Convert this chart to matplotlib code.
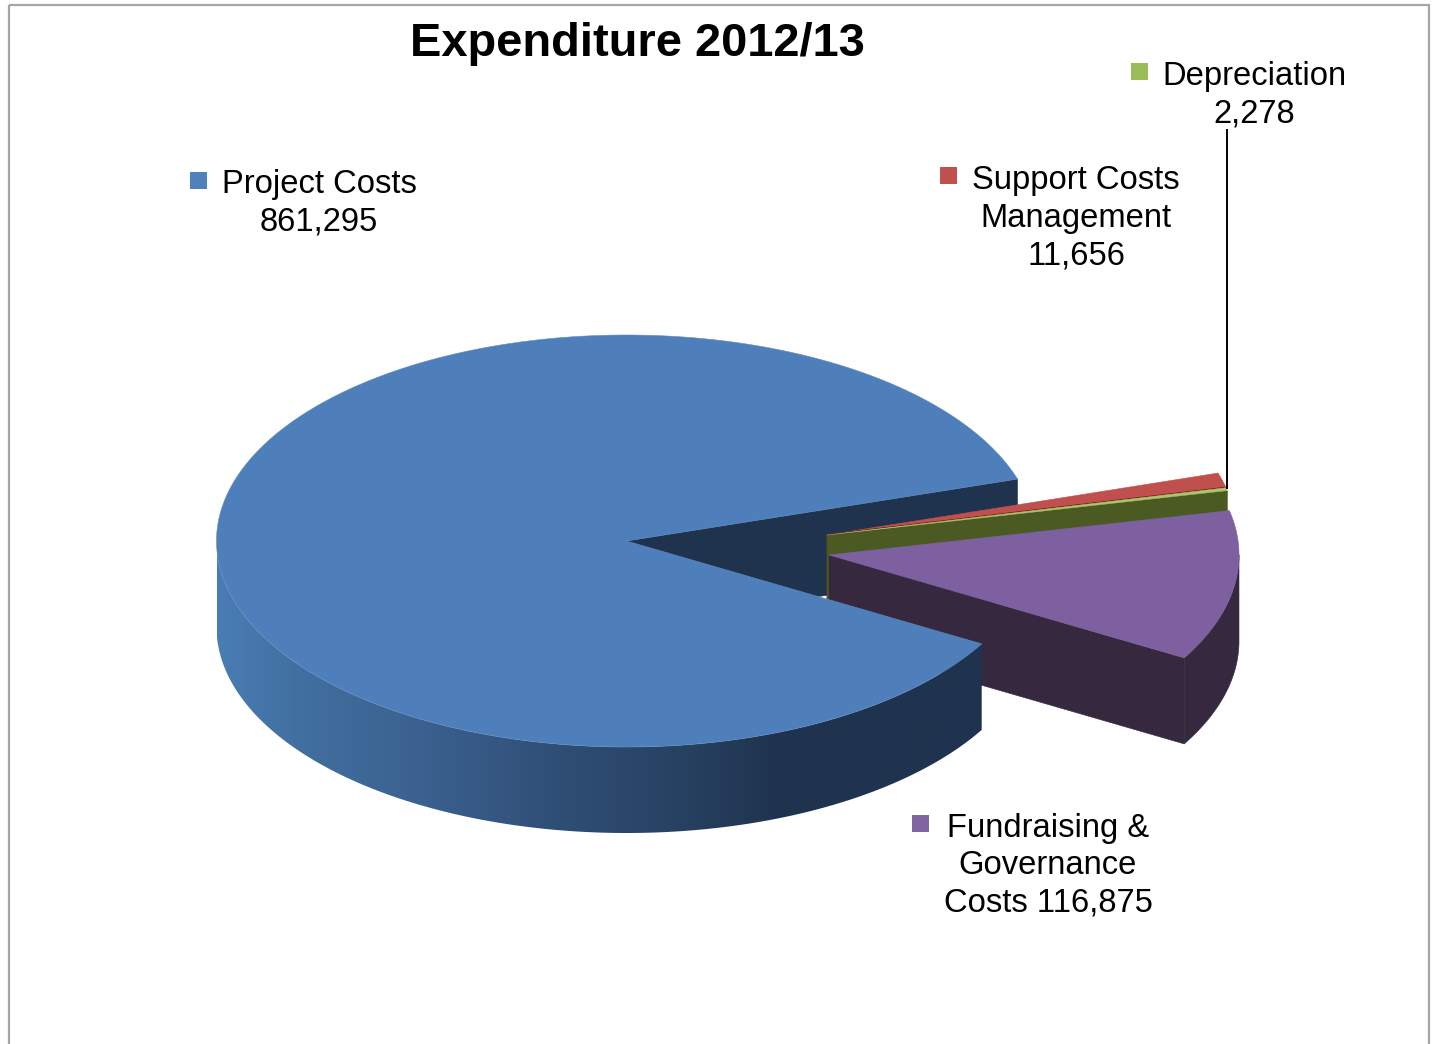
import numpy as np
import matplotlib
matplotlib.use("Agg")
import matplotlib.pyplot as plt
from matplotlib.colors import to_rgb
from matplotlib.patches import Polygon, Rectangle

plt.rcParams['font.family'] = ['Liberation Sans', 'DejaVu Sans']

categories = ["Project Costs", "Fundraising & Governance Costs", "Depreciation", "Support Costs Management"]
values = [861295, 116875, 2278, 11656]
title = "Expenditure 2012/13"

W, H = 1437, 1044
fig = plt.figure(figsize=(W / 100, H / 100), dpi=100)
ax = fig.add_axes([0, 0, 1, 1])
ax.set_xlim(0, W)
ax.set_ylim(H, 0)
ax.axis('off')

# frame
ax.add_patch(Rectangle((9, 5), 1420, 1060, fill=False, ec='#a6a6a6', lw=1.6))

# pie geometry
RX, RY, DEPTH = 410, 206, 86
START = 17.5
total = sum(values)
sweeps = [v / total * 360 for v in values]
proj_end = START + sweeps[0]
fund_end = proj_end + sweeps[1]
dep_end = fund_end + sweeps[2]
sup_end = dep_end + sweeps[3]


def arc(cx, cy, a0, a1, n=200, dy=0):
    t = np.radians(np.linspace(a0, a1, n))
    return np.column_stack([cx + RX * np.cos(t), cy - RY * np.sin(t) + dy])


def poly(pts, color, z, lw=0.0, ec=None):
    p = Polygon(pts, closed=True, fc=color, ec=ec if ec else color, lw=lw, zorder=z, joinstyle='round')
    ax.add_patch(p)
    return p


def wall(cx, cy, a, color, z):
    p = arc(cx, cy, a, a, 1)[0]
    poly([(cx, cy), p, p + (0, DEPTH), (cx, cy + DEPTH)], color, z, lw=0.4)


def rim(cx, cy, a0, a1, color, z):
    top = arc(cx, cy, a0, a1)
    poly(np.vstack([top, (top + (0, DEPTH))[::-1]]), color, z, lw=0.4)


# centres
C_P = (626.5, 541)
C_D = (827, 535)
C_F = (829, 555)

DARK_BLUE = '#1f334f'
TOP_BLUE = '#4e7fbb'
DARK_PURPLE = '#35283f'
TOP_PURPLE = '#7e60a0'
TOP_RED = '#c0504d'
DARK_RED = '#6b1f1d'
TOP_GREEN = '#a9c66c'
DARK_GREEN = '#4a5a22'

# project back wall
wall(*C_P, START, DARK_BLUE, 1)

# support
wall(*C_D, sup_end - sweeps[3], DARK_RED, 2)
poly(np.vstack([[C_D], arc(*C_D, dep_end, sup_end, 20)]), TOP_RED, 3, lw=0.4)
# depreciation
wall(*C_D, fund_end, DARK_GREEN, 4)
d0 = arc(*C_D, dep_end, dep_end, 1)[0]
ax.plot([C_D[0], d0[0]], [C_D[1] - 0.5, d0[1] - 0.5], color=DARK_RED, lw=0.7, zorder=4.5)
poly(np.vstack([[C_D], arc(*C_D, fund_end, dep_end, 10)]), TOP_GREEN, 5, lw=0.3)
# fundraising
wall(*C_F, proj_end, DARK_PURPLE, 6)
rim(*C_F, proj_end, 360, DARK_PURPLE, 6)
poly(np.vstack([[C_F], arc(*C_F, proj_end, fund_end)]), TOP_PURPLE, 7, lw=0.4)

# project rim with horizontal shading (one gradient image clipped to the rim)
stops_x = [216, 300, 420, 560, 690, 780, 990]
stops_c = ['#4a7db5', '#416f9f', '#3b6190', '#2f4e75', '#264060', DARK_BLUE, DARK_BLUE]
stops_rgb = np.array([to_rgb(c) for c in stops_c])
rim_top = arc(*C_P, 180, proj_end, 400)
rim_pts = np.vstack([rim_top, (rim_top + (0, DEPTH))[::-1]])
x0, x1 = rim_pts[:, 0].min(), rim_pts[:, 0].max()
y0, y1 = rim_pts[:, 1].min(), rim_pts[:, 1].max()
xs = np.linspace(x0, x1, 800)
grad = np.stack([np.interp(xs, stops_x, stops_rgb[:, i]) for i in range(3)], axis=-1)[None, :, :]
clip = Polygon(rim_pts, closed=True, transform=ax.transData, fc='none', ec='none')
ax.add_patch(clip)
img = ax.imshow(grad, extent=(x0, x1, y1, y0), aspect='auto', zorder=8, interpolation='bilinear')
img.set_clip_path(clip)
ax.set_xlim(0, W)
ax.set_ylim(H, 0)

# project top
poly(np.vstack([[C_P], arc(*C_P, START, proj_end, 600)]), TOP_BLUE, 9, lw=0.4, ec='#5f8cc0')

# leader
d1 = arc(*C_D, dep_end, dep_end, 1)[0]
ax.plot([1227, 1227], [130, d1[1]], color='black', lw=1.4, zorder=10)

# title
ax.text(637, 44.5, title, ha='center', va='center', fontsize=33.8, fontweight='bold', color='black', zorder=11)

# labels
LABEL_FS = 23.6
LINE = 37.6
labels = [
    ([categories[0], f"{values[0]:,}"], 319, 184, (190, 172), '#4f81bd'),
    (["Fundraising &", "Governance", f"Costs {values[1]:,}"], 1048, 828, (912, 815), '#8064a2'),
    ([categories[2], f"{values[2]:,}"], 1254, 76.5, (1131, 63), '#9bbb59'),
    (["Support Costs", "Management", f"{values[3]:,}"], 1076, 180.5, (940, 167), '#c0504d'),
]
for lines, xc, yt, key, col in labels:
    for i, s in enumerate(lines):
        ax.text(xc, yt + i * LINE, s, ha='center', va='center', fontsize=LABEL_FS, color='black', zorder=11)
    ax.add_patch(Rectangle(key, 17, 17, fc=col, ec='none', zorder=11))

fig.savefig('out.png', dpi=100, facecolor='white')
